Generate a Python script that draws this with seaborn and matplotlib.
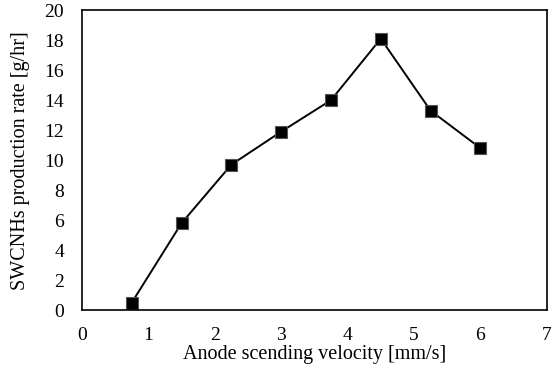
import matplotlib
matplotlib.use("Agg")
import matplotlib.pyplot as plt
import seaborn as sns
import pandas as pd

velocity = [0.75, 1.5, 2.25, 3.0, 3.75, 4.5, 5.25, 6.0]
rate = [0.5, 5.8, 9.7, 11.9, 14.0, 18.1, 13.3, 10.8]
x_ticks = [0, 1, 2, 3, 4, 5, 6, 7]
y_ticks = [0, 2, 4, 6, 8, 10, 12, 14, 16, 18, 20]

sns.set_theme(style="white")
plt.rcParams['font.family'] = ['Liberation Serif', 'DejaVu Serif']

df = pd.DataFrame({"v": velocity, "r": rate})
fig = plt.figure(figsize=(5.54, 3.92), dpi=100)
ax = fig.add_axes([0.148, 0.209, 0.839, 0.765])
sns.lineplot(data=df, x="v", y="r", ax=ax, color="black", linewidth=1.4,
             marker="s", markersize=8, markerfacecolor="black",
             markeredgecolor="#555555", markeredgewidth=0.8)
ax.set_xlim(0, 7)
ax.set_ylim(0, 20)
ax.set_xticks(x_ticks)
ax.set_yticks(y_ticks)
ax.tick_params(axis="both", direction="in", length=6, width=1.2, color="black",
               labelsize=14, labelcolor="black")
ax.tick_params(axis="y", length=7, pad=13)
ax.tick_params(axis="x", pad=12)
for s in ax.spines.values():
    s.set_color("black")
    s.set_linewidth(1.2)
ax.set_xlabel("Anode scending velocity [mm/s]", fontsize=14.5, color="black", labelpad=1)
ax.set_ylabel("SWCNHs production rate [g/hr]", fontsize=14.5, color="black", labelpad=10)
fig.savefig("out.png", dpi=100)
